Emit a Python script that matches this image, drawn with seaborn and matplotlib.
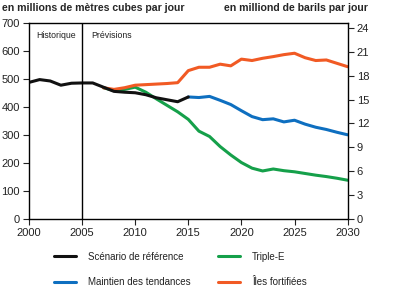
import numpy as np
import pandas as pd
import seaborn as sns
import matplotlib
matplotlib.use("Agg")
import matplotlib.pyplot as plt
from matplotlib.lines import Line2D

sns.set_style("white")
plt.rcParams['font.family'] = ['Liberation Sans', 'DejaVu Sans']

years_ref = list(range(2000, 2016))
ref_vals = [487, 497, 492, 477, 484, 485, 485, 470, 455, 452, 450, 443, 432, 425, 418, 435]

years_blue = list(range(2015, 2031))
blue_vals = [435, 433, 437, 423, 408, 386, 365, 354, 357, 346, 352, 338, 327, 319, 309, 300]

years_green = list(range(2007, 2031))
green_vals = [468, 458, 462, 470, 452, 428, 405, 382, 355, 313, 294, 258, 228, 201, 181, 171,
              178, 172, 168, 162, 156, 151, 145, 138]

years_orange = list(range(2007, 2031))
orange_vals = [468, 462, 468, 477, 479, 481, 483, 486, 529, 541, 541, 552, 546, 570, 565, 573,
               579, 586, 591, 575, 565, 567, 555, 543]

col1_names = ["Scénario de référence", "Maintien des tendances"]
col2_names = ["Triple-E", "Îles fortifiées"]
colors = {"Scénario de référence": "#111111", "Triple-E": "#15A04A",
          "Maintien des tendances": "#0E6FC0", "Îles fortifiées": "#F15A24"}

df = pd.concat([
    pd.DataFrame({"year": years_green, "val": green_vals, "s": "Triple-E"}),
    pd.DataFrame({"year": years_orange, "val": orange_vals, "s": "Îles fortifiées"}),
    pd.DataFrame({"year": years_blue, "val": blue_vals, "s": "Maintien des tendances"}),
    pd.DataFrame({"year": years_ref, "val": ref_vals, "s": "Scénario de référence"}),
])

fig = plt.figure(figsize=(4.0, 2.97), dpi=100)
ax = fig.add_axes([0.0725, 0.263, 0.7965, 0.6606])
sns.lineplot(data=df, x="year", y="val", hue="s", palette=colors, linewidth=2.2,
             ax=ax, legend=False, estimator=None, sort=False)

ax.set_xlim(2000, 2030)
ax.set_ylim(0, 700)
ax.set_xticks(range(2000, 2031, 5))
ax.set_yticks(range(0, 701, 100))
ax.set_xlabel("")
ax.set_ylabel("")
for sp in ax.spines.values():
    sp.set_visible(True)
    sp.set_color("black")
    sp.set_linewidth(1.0)
ax.tick_params(axis="both", direction="out", length=4, width=0.8, labelsize=8,
               colors="#222222", left=True, bottom=True, pad=2.5)
ax.axvline(2005, color="black", linewidth=1.0)
ax.text(2000.7, 655, "Historique", fontsize=6.3, va="center", color="#222222")
ax.text(2005.9, 655, "Prévisions", fontsize=6.3, va="center", color="#222222")

ax2 = ax.twinx()
ax2.set_ylim(0, 700 / 28.375)
ax2.set_yticks(range(0, 25, 3))
ax2.tick_params(axis="y", direction="out", length=4, width=0.8, labelsize=8,
                colors="#222222", right=True, pad=2.5)
for sp in ax2.spines.values():
    sp.set_visible(False)

fig.text(0.005, 0.972, "en millions de mètres cubes par jour", fontsize=7.6,
         fontweight="bold", ha="left", va="center")
fig.text(0.92, 0.972, "en milliond de barils par jour", fontsize=7.6,
         fontweight="bold", ha="right", va="center")

for names, x0 in ((col1_names, 0.135), (col2_names, 0.545)):
    handles = [Line2D([0], [0], color=colors[n], linewidth=2.2) for n in names]
    leg = fig.legend(handles, names, loc="upper left", bbox_to_anchor=(x0, 0.153),
                     ncol=1, frameon=False, fontsize=7, handlelength=2.3,
                     handletextpad=1.2, labelspacing=1.6, borderpad=0,
                     borderaxespad=0)
    for t in leg.get_texts():
        t.set_color("#222222")

fig.savefig("out.png", dpi=100)
